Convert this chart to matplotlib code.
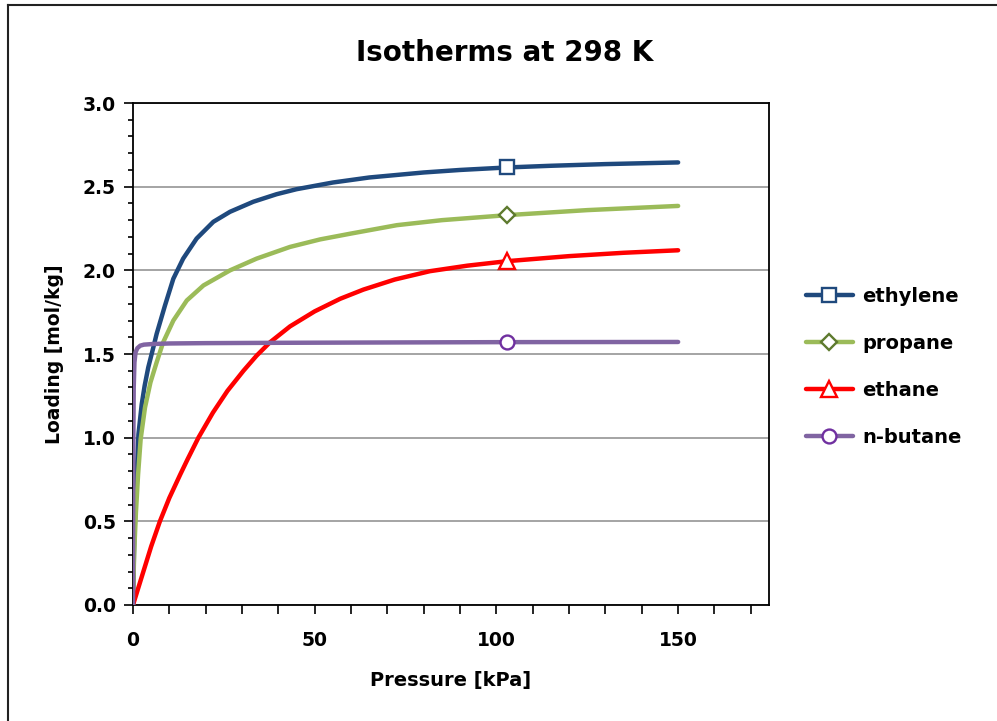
import numpy as np
import matplotlib
matplotlib.use('agg')
import matplotlib.pyplot as plt
from matplotlib.ticker import MultipleLocator, FormatStrFormatter
from matplotlib.lines import Line2D

plt.rcParams['font.family'] = ['DejaVu Sans']
plt.rcParams['font.weight'] = 'bold'

# values (pressure in kPa, loading in mol/kg)
marker_p = 103

ethylene_p = [0, 0.3, 0.7, 1.5, 2.4, 3.2, 4.2, 5.6, 6.5, 8.8, 11.1, 13.8, 17.5, 22.1, 26.7, 33.1,
              39.5, 45, 55, 65, 80, 90, 103, 115, 130, 150]
ethylene_q = [0, 0.35, 0.62, 1.02, 1.20, 1.31, 1.42, 1.54, 1.62, 1.79, 1.95, 2.07, 2.19, 2.29, 2.35, 2.41,
              2.455, 2.485, 2.525, 2.555, 2.585, 2.60, 2.615, 2.625, 2.635, 2.645]

propane_p = [0, 0.3, 0.8, 1.4, 2.1, 3.3, 4.8, 6.5, 8.3, 11.1, 14.8, 19.4, 26.7, 34, 43.2, 51.5,
             60, 72.6, 85, 103, 125, 150]
propane_q = [0, 0.3, 0.55, 0.78, 0.99, 1.18, 1.33, 1.45, 1.57, 1.70, 1.82, 1.91, 2.0, 2.07, 2.14, 2.185,
             2.22, 2.27, 2.30, 2.33, 2.36, 2.385]

ethane_p = [0, 2, 5, 7.4, 10, 13, 15, 18, 22, 26, 30.4, 34, 37.7, 43.2, 50, 57, 63.4, 72, 81.7,
            92, 103, 120, 135, 150]
ethane_q = [0, 0.14, 0.35, 0.50, 0.64, 0.78, 0.87, 1.0, 1.15, 1.28, 1.40, 1.49, 1.57, 1.665, 1.755, 1.83, 1.885, 1.945, 1.995,
            2.028, 2.055, 2.085, 2.105, 2.12]

butane_p = [0, 0.05, 0.1, 0.2, 0.4, 0.7, 1.2, 2, 3, 5.6, 10, 20, 40, 70, 103, 150]
butane_q = [0, 0.6, 1.0, 1.3, 1.45, 1.51, 1.535, 1.55, 1.556, 1.56, 1.563, 1.565, 1.567, 1.569, 1.571, 1.572]

series = [
    ('ethylene', ethylene_p, ethylene_q, '#1F497D', '#1F497D', 's', 10),
    ('propane', propane_p, propane_q, '#9BBB59', '#5E7A2E', 'D', 8.5),
    ('ethane', ethane_p, ethane_q, '#FF0000', '#FF0000', '^', 11),
    ('n-butane', butane_p, butane_q, '#8064A2', '#7030A0', 'o', 10),
]

fig = plt.figure(figsize=(9.97, 7.21), dpi=100)
ax = fig.add_axes([0.1334, 0.1609, 0.6379, 0.6962])

for name, p, q, col, ecol, mk, ms in series:
    ax.plot(p, q, color=col, lw=3.2, marker=mk, markevery=[p.index(marker_p)],
            markersize=ms, markerfacecolor='white', markeredgecolor=ecol,
            markeredgewidth=1.7, label=name, solid_capstyle='round',
            solid_joinstyle='round', zorder=3)

ax.set_xlim(0, 175)
ax.set_ylim(0, 3.0)
ax.xaxis.set_major_locator(MultipleLocator(50))
ax.xaxis.set_minor_locator(MultipleLocator(10))
ax.yaxis.set_major_locator(MultipleLocator(0.5))
ax.yaxis.set_minor_locator(MultipleLocator(0.1))
ax.yaxis.set_major_formatter(FormatStrFormatter('%.1f'))
ax.tick_params(axis='x', which='both', direction='out', length=6.5, width=1.2, labelsize=13.5, pad=12)
ax.tick_params(axis='y', which='major', direction='out', length=6.5, width=1.2, labelsize=13.5, pad=6)
ax.tick_params(axis='y', which='minor', direction='out', length=3.5, width=1.2)
for lab in ax.get_xticklabels() + ax.get_yticklabels():
    lab.set_fontweight('bold')

ax.grid(axis='y', which='major', color='#8C8C8C', lw=1.1)
ax.set_axisbelow(True)
for sp in ax.spines.values():
    sp.set_linewidth(1.3)

ax.set_xlabel('Pressure [kPa]', fontsize=14, fontweight='bold', labelpad=15)
ax.set_ylabel('Loading [mol/kg]', fontsize=13.5, fontweight='bold', labelpad=13)
fig.text(0.506, 0.927, 'Isotherms at 298 K', ha='center', va='center', fontsize=20, fontweight='bold')

fig.legend(loc='center left', bbox_to_anchor=(0.8084, 0.491), frameon=False,
           prop={'weight': 'bold', 'size': 14}, handlelength=2.4,
           handletextpad=0.5, labelspacing=1.45, borderpad=0, borderaxespad=0)

# outer chart border (only left and top edges fall inside the image)
fig.add_artist(Line2D([0.008, 0.008], [0, 0.993], transform=fig.transFigure, color='#222222', lw=1.5))
fig.add_artist(Line2D([0.008, 1.0], [0.993, 0.993], transform=fig.transFigure, color='#222222', lw=1.5))

fig.savefig('out.png', dpi=100)
